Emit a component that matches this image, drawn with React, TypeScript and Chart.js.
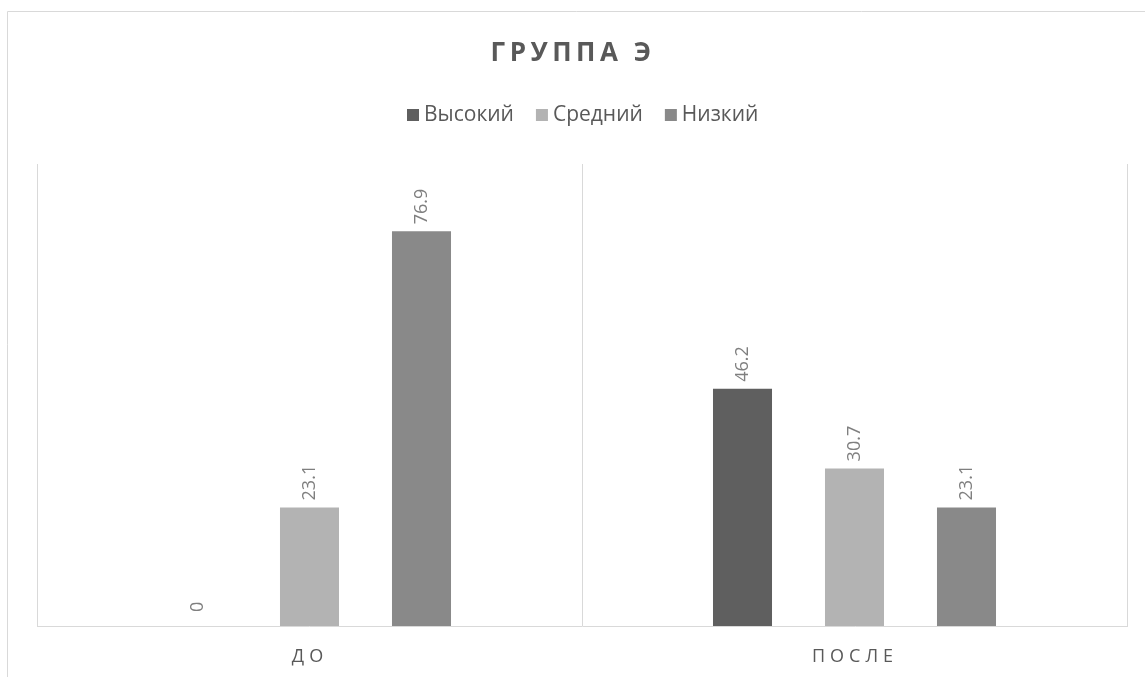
import React, { useEffect, useRef } from "react";
import { Chart, registerables } from "chart.js";

Chart.register(...registerables);

const chartTitle = "ГРУППА Э";
const categories = ["ДО", "ПОСЛЕ"];
const seriesNames = ["Высокий", "Средний", "Низкий"];
const highValues = [0, 46.2];
const midValues = [23.1, 30.7];
const lowValues = [76.9, 23.1];
const seriesColors = ["#5f5f5f", "#b3b3b3", "#898989"];
const yMin = 0;
const yMax = 90;

const FONT = '"Open Sans", "Noto Sans", sans-serif';

const decorPlugin = {
  id: "decor",
  afterDraw(chart: any) {
    const ctx: CanvasRenderingContext2D = chart.ctx;
    ctx.save();

    // outer frame
    ctx.strokeStyle = "#d9d9d9";
    ctx.lineWidth = 1;
    ctx.beginPath();
    ctx.moveTo(7.5, 700);
    ctx.lineTo(7.5, 11.5);
    ctx.lineTo(1200, 11.5);
    ctx.stroke();

    // title
    (ctx as any).letterSpacing = "4.5px";
    ctx.font = `bold 26px ${FONT}`;
    ctx.fillStyle = "#595959";
    ctx.textAlign = "center";
    ctx.textBaseline = "middle";
    ctx.fillText(chartTitle, 571 + 2, 54);

    // category labels
    (ctx as any).letterSpacing = "5px";
    ctx.font = `18px ${FONT}`;
    const xScale = chart.scales.x;
    categories.forEach((c, i) => {
      const x = xScale.getPixelForValue(i);
      ctx.fillText(c, x + 0.5, 657);
    });

    // legend
    (ctx as any).letterSpacing = "0px";
    ctx.font = `21px ${FONT}`;
    ctx.textAlign = "left";
    let lx = 407;
    const ly = 115;
    seriesNames.forEach((name, i) => {
      ctx.fillStyle = seriesColors[i];
      ctx.fillRect(lx, ly - 6, 12, 12);
      lx += 17;
      ctx.fillStyle = "#595959";
      ctx.fillText(name, lx, ly);
      lx += ctx.measureText(name).width + 22;
    });

    // data labels
    ctx.font = `18px ${FONT}`;
    ctx.fillStyle = "#7f7f7f";
    chart.data.datasets.forEach((ds: any, di: number) => {
      const meta = chart.getDatasetMeta(di);
      meta.data.forEach((el: any, i: number) => {
        const v = ds.data[i];
        ctx.save();
        ctx.translate(el.x, el.y - (v === 0 ? 14 : 7));
        ctx.rotate(-Math.PI / 2);
        ctx.textAlign = "left";
        ctx.textBaseline = "middle";
        ctx.fillText(String(v), 0, 0);
        ctx.restore();
      });
    });

    ctx.restore();
  },
};

export default function App() {
  const ref = useRef<HTMLCanvasElement | null>(null);
  useEffect(() => {
    if (!ref.current) return;
    const chart = new Chart(ref.current, {
      type: "bar",
      data: {
        labels: categories,
        datasets: [
          { label: seriesNames[0], data: highValues, backgroundColor: seriesColors[0] },
          { label: seriesNames[1], data: midValues, backgroundColor: seriesColors[1] },
          { label: seriesNames[2], data: lowValues, backgroundColor: seriesColors[2] },
        ],
      },
      options: {
        responsive: false,
        animation: false,
        events: [],
        layout: { padding: { left: 37, right: 18, top: 164, bottom: 51 } },
        datasets: { bar: { categoryPercentage: 0.6165, barPercentage: 0.527 } },
        plugins: {
          legend: { display: false },
          title: { display: false },
          tooltip: { enabled: false },
        },
        scales: {
          x: {
            display: true,
            grid: { display: true, color: "#d9d9d9", drawTicks: false, offset: true },
            border: { display: true, color: "#d9d9d9" },
            ticks: { display: false },
            afterFit: (s: any) => { s.height = 0; },
          },
          y: {
            display: false,
            min: yMin,
            max: yMax,
          },
        },
      },
      plugins: [decorPlugin],
    });
    return () => chart.destroy();
  }, []);
  return (
    <div style={{ position: "absolute", left: 0, top: 0, width: 1145, height: 677 }}>
      <canvas ref={ref} width={1145} height={677} style={{ display: "block" }} />
    </div>
  );
}
